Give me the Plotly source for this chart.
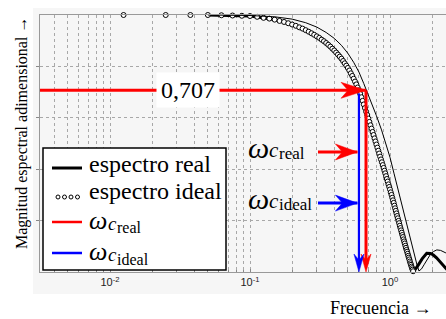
import plotly.graph_objects as go

# ---------------- data ----------------
ideal_f = [0.0125, 0.025, 0.0375, 0.05, 0.0625, 0.075, 0.0875, 0.1,
           0.1125, 0.125, 0.1375, 0.15, 0.1625, 0.175, 0.1875, 0.2,
           0.2125, 0.225, 0.2375, 0.25, 0.2625, 0.275, 0.2875, 0.3,
           0.3125, 0.325, 0.3375, 0.35, 0.3625, 0.375, 0.3875, 0.4,
           0.4125, 0.425, 0.4375, 0.45, 0.4625, 0.475, 0.4875, 0.5,
           0.5125, 0.525, 0.5375, 0.55, 0.5625, 0.575, 0.5875, 0.6,
           0.6125, 0.625, 0.6375, 0.65, 0.6625, 0.675, 0.6875, 0.7,
           0.7125, 0.725, 0.7375, 0.75, 0.7625, 0.775, 0.7875, 0.8,
           0.8125, 0.825, 0.8375, 0.85, 0.8625, 0.875, 0.8875, 0.9,
           0.9125, 0.925, 0.9375, 0.95, 0.9625, 0.975, 0.9875, 1.0,
           1.0125, 1.025, 1.0375, 1.05, 1.0625, 1.075, 1.0875, 1.1,
           1.1125, 1.125, 1.1375, 1.15, 1.1625, 1.175, 1.1875, 1.2,
           1.2125, 1.225, 1.2375, 1.25, 1.2625, 1.275, 1.2875, 1.3,
           1.3125, 1.325, 1.3375, 1.35, 1.3625, 1.375, 1.3875, 1.4,
           1.4125, 1.425, 1.4375, 1.45, 1.4625]
ideal_v = [1.000, 1.000, 1.000, 1.000, 0.999, 0.998, 0.997, 0.996,
           0.993, 0.989, 0.986, 0.982, 0.977, 0.973, 0.968, 0.963,
           0.958, 0.952, 0.947, 0.941, 0.935, 0.929, 0.923, 0.917,
           0.911, 0.904, 0.898, 0.891, 0.884, 0.877, 0.869, 0.862,
           0.854, 0.846, 0.838, 0.830, 0.821, 0.812, 0.803, 0.794,
           0.784, 0.773, 0.763, 0.752, 0.741, 0.730, 0.718, 0.707,
           0.693, 0.680, 0.666, 0.652, 0.638, 0.624, 0.611, 0.597,
           0.584, 0.571, 0.558, 0.545, 0.533, 0.520, 0.508, 0.496,
           0.484, 0.472, 0.461, 0.449, 0.438, 0.427, 0.416, 0.405,
           0.394, 0.384, 0.373, 0.362, 0.352, 0.341, 0.331, 0.321,
           0.310, 0.300, 0.289, 0.279, 0.269, 0.258, 0.248, 0.238,
           0.228, 0.218, 0.209, 0.199, 0.190, 0.180, 0.171, 0.162,
           0.153, 0.144, 0.136, 0.127, 0.119, 0.111, 0.102, 0.094,
           0.086, 0.079, 0.071, 0.063, 0.056, 0.049, 0.041, 0.034,
           0.028, 0.021, 0.015, 0.009, 0.003]

real_f = [0.05, 0.1, 0.15, 0.2, 0.25, 0.3, 0.35, 0.4, 0.45, 0.5, 0.55, 0.6,
          0.65, 0.7, 0.75, 0.8, 0.85, 0.9, 0.95, 1.0, 1.05, 1.1, 1.15, 1.2,
          1.25, 1.3, 1.35, 1.4, 1.45, 1.47, 1.53, 1.59, 1.7, 1.83, 1.95,
          2.04, 2.15, 2.28, 2.4, 2.47, 2.55]
real_v = [1.0, 0.996, 0.982, 0.963, 0.941, 0.917, 0.891, 0.862, 0.830, 0.794,
          0.752, 0.707, 0.652, 0.597, 0.545, 0.496, 0.449, 0.405, 0.362, 0.321,
          0.279, 0.238, 0.199, 0.162, 0.127, 0.094, 0.063, 0.034, 0.009, 0.0,
          0.012, 0.027, 0.052, 0.073, 0.072, 0.066, 0.055, 0.040, 0.027, 0.018,
          0.010]

thin_f = [0.05, 0.1, 0.15, 0.2, 0.25, 0.3, 0.35, 0.4, 0.45, 0.5, 0.55, 0.6,
          0.65, 0.68, 0.75, 0.8, 0.87, 0.94, 1.0, 1.07, 1.14, 1.2, 1.25, 1.3,
          1.37, 1.44, 1.51, 1.56, 1.61, 1.68, 1.75, 1.85, 1.93, 2.05, 2.16,
          2.3, 2.51]
thin_v = [1.0, 0.998, 0.993, 0.984, 0.970, 0.953, 0.932, 0.909, 0.882, 0.851,
          0.816, 0.778, 0.733, 0.707, 0.648, 0.608, 0.553, 0.496, 0.446, 0.382,
          0.321, 0.275, 0.239, 0.203, 0.156, 0.106, 0.058, 0.027, 0.004, 0.012,
          0.028, 0.050, 0.066, 0.080, 0.086, 0.084, 0.074]

level_707 = 0.707
wc_real = 0.674
wc_ideal = 0.600
x_min = 0.00316
pointer_start = 0.306
pointer_tip = 0.585
pointer_real_v = 0.467
pointer_ideal_v = 0.268

decades = [0.01, 0.1, 1]
decade_labels = ["10<sup>-2</sup>", "10<sup>-1</sup>", "10<sup>0</sup>"]
minor_vals = [0.004, 0.005, 0.006, 0.007, 0.008, 0.009,
              0.02, 0.03, 0.04, 0.05, 0.06, 0.07, 0.08, 0.09,
              0.2, 0.3, 0.4, 0.5, 0.6, 0.7, 0.8, 0.9, 2]
y_grid = [0.2, 0.4, 0.6, 0.8]

# ---------------- geometry helpers (pixel -> paper) ----------------
W, H = 446, 319
L, R, T, B = 40, 0, 15, 47
PW, PH = W - L - R, H - T - B


def px(x):
    return (x - L) / PW


def py(y):
    return (H - B - y) / PH


SERIF = "Liberation Serif, Times New Roman, serif"
RED, BLUE = "#ff0000", "#0000ff"

fig = go.Figure()

# real spectrum, thick line
fig.add_trace(go.Scatter(x=real_f, y=real_v, mode="lines",
                         line=dict(color="black", width=3), showlegend=False,
                         hoverinfo="skip"))
# ideal spectrum, open circles
fig.add_trace(go.Scatter(x=ideal_f, y=ideal_v, mode="markers",
                         marker=dict(symbol="circle", size=5, color="white",
                                     line=dict(color="black", width=1)),
                         cliponaxis=False, showlegend=False, hoverinfo="skip"))
# thin reference curve
fig.add_trace(go.Scatter(x=thin_f, y=thin_v, mode="lines",
                         line=dict(color="black", width=1), showlegend=False,
                         hoverinfo="skip"))

# 0.707 horizontal red line
fig.add_trace(go.Scatter(x=[x_min, wc_real], y=[level_707, level_707], mode="lines",
                         line=dict(color=RED, width=3), showlegend=False,
                         hoverinfo="skip"))
# vertical cut-off lines
fig.add_trace(go.Scatter(x=[wc_ideal, wc_ideal], y=[level_707 - 0.012, 0.03],
                         mode="lines", line=dict(color=BLUE, width=2.2),
                         showlegend=False, hoverinfo="skip"))
fig.add_trace(go.Scatter(x=[wc_real, wc_real], y=[level_707, 0.03],
                         mode="lines", line=dict(color=RED, width=3),
                         showlegend=False, hoverinfo="skip"))
# small pointer arrows
fig.add_trace(go.Scatter(x=[pointer_start, pointer_tip], y=[pointer_real_v, pointer_real_v],
                         mode="lines", line=dict(color=RED, width=3),
                         showlegend=False, hoverinfo="skip"))
fig.add_trace(go.Scatter(x=[pointer_start, pointer_tip], y=[pointer_ideal_v, pointer_ideal_v],
                         mode="lines", line=dict(color=BLUE, width=3),
                         showlegend=False, hoverinfo="skip"))

shapes = []


def head(xa, ya, path, color):
    shapes.append(dict(type="path", xref="x", yref="y", xsizemode="pixel",
                       ysizemode="pixel", xanchor=xa, yanchor=ya, path=path,
                       fillcolor=color, line=dict(color=color, width=0.5),
                       layer="above"))


RIGHT_BIG = "M0,0 L-25,8 L-18,0 L-25,-8 Z"
RIGHT_SMALL = "M0,0 L-22,8 L-15,0 L-22,-8 Z"
DOWN = "M0,0 L-5,18 L0,12 L5,18 Z"
head(wc_real, level_707, RIGHT_BIG, RED)
head(pointer_tip, pointer_real_v, RIGHT_SMALL, RED)
head(pointer_tip, pointer_ideal_v, RIGHT_SMALL, BLUE)
head(wc_real, 0, DOWN, RED)
head(wc_ideal, 0, DOWN, BLUE)

# light grey figure background around the axes
shapes.append(dict(type="rect", xref="paper", yref="paper", x0=px(33), x1=px(446),
                   y0=py(294), y1=py(8), fillcolor="#f6f6f6", line=dict(width=0),
                   layer="below"))

# legend box
shapes.append(dict(type="rect", xref="paper", yref="paper", x0=px(43), x1=px(226),
                   y0=py(270), y1=py(148), fillcolor="white",
                   line=dict(color="black", width=1.5), layer="above"))
legend_lines = [(168, "black", 3), (222, RED, 2.5), (253, BLUE, 2.5)]
for yy, c, w in legend_lines:
    shapes.append(dict(type="line", xref="paper", yref="paper", x0=px(52), x1=px(82),
                       y0=py(yy), y1=py(yy), line=dict(color=c, width=w),
                       layer="above"))
for cx in [58, 64.5, 71, 77.5]:
    shapes.append(dict(type="circle", xref="paper", yref="paper", xsizemode="pixel",
                       ysizemode="pixel", xanchor=px(cx), yanchor=py(197),
                       x0=-2, x1=2, y0=-2, y1=2, fillcolor="white",
                       line=dict(color="black", width=1), layer="above"))

annotations = []


def text(x, y, s, size, xanchor="left", **kw):
    annotations.append(dict(x=px(x), y=py(y), xref="paper", yref="paper", text=s,
                            showarrow=False, xanchor=xanchor, yanchor="middle",
                            font=dict(family=SERIF, size=size, color="black"), **kw))


# 0,707 label
text(188, 90, "0,707", 24, xanchor="center", bgcolor="white", borderpad=4)
# omega labels in plot
text(246, 147, "<i>ω</i>", 30)
text(267, 150, "<i>c</i>", 21)
text(277, 153, "real", 17)
text(246, 198, "<i>ω</i>", 30)
text(267, 201, "<i>c</i>", 21)
text(277, 204, "ideal", 17)
# legend texts
text(87, 164, "espectro real", 24)
text(87, 191, "espectro ideal", 24)
text(87, 220, "<i>ω</i>", 26)
text(106, 223, "<i>c</i>", 19)
text(115, 228, "real", 16)
text(87, 251, "<i>ω</i>", 26)
text(106, 254, "<i>c</i>", 19)
text(115, 259, "ideal", 16)
# axis titles
text(380, 308, "Frecuencia →", 18, xanchor="center")
annotations.append(dict(x=px(22), y=py(133), xref="paper", yref="paper",
                        text="Magnitud espectral adimensional →", textangle=-90,
                        showarrow=False, xanchor="center", yanchor="middle",
                        font=dict(family=SERIF, size=16, color="black")))

GRID = "#a8a8a8"
fig.update_layout(
    width=W, height=H,
    margin=dict(l=L, r=R, t=T, b=B, pad=0),
    paper_bgcolor="white", plot_bgcolor="white",
    font=dict(family=SERIF, color="black"),
    showlegend=False,
    shapes=shapes, annotations=annotations,
    xaxis=dict(type="log", range=[-2.5, 0.4], tickmode="array", tickvals=decades,
               ticktext=decade_labels, showgrid=True, gridcolor=GRID, griddash="dot",
               gridwidth=1, ticks="inside", ticklen=3, tickcolor="#888",
               minor=dict(tickmode="array", tickvals=minor_vals, showgrid=True,
                          gridcolor=GRID, griddash="dot", gridwidth=1,
                          ticks="inside", ticklen=2, tickcolor="#888"),
               showline=True, linecolor="#999", linewidth=1, mirror=True,
               zeroline=False,
               tickfont=dict(family="Liberation Sans, Arial, sans-serif", size=11,
                             color="#222")),
    yaxis=dict(range=[0, 1], tickmode="array", tickvals=y_grid, showticklabels=False,
               showgrid=True, gridcolor=GRID, griddash="dot", gridwidth=1,
               ticks="outside", ticklen=3, tickcolor="#888",
               showline=True, linecolor="#999", linewidth=1, mirror=True,
               zeroline=False),
)

fig.write_html("out.html",
               config={"displayModeBar": False},
               post_script="document.body.style.margin='0px';document.body.style.overflow='hidden';")
